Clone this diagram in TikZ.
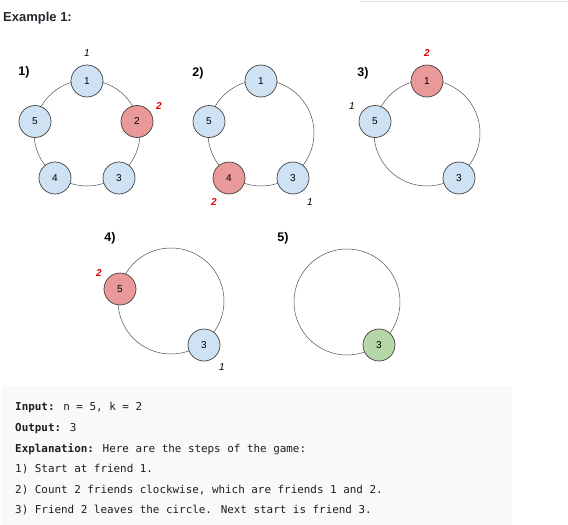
\documentclass[tikz,border=0pt]{standalone}
\usepackage{fontspec}
\setmainfont{Liberation Sans}
\newfontfamily\codefont{DejaVu Sans Mono}
\definecolor{fblue}{HTML}{CFE2F3}
\definecolor{fred}{HTML}{EA9999}
\definecolor{fgreen}{HTML}{B6D7A8}
\definecolor{nodeborder}{HTML}{404040}
\definecolor{ringgray}{HTML}{505050}
\definecolor{titlecol}{HTML}{262A30}
\definecolor{codebg}{HTML}{F7F9FA}
\definecolor{codetext}{HTML}{1E1E1E}
\definecolor{cntred}{HTML}{E00000}
\begin{document}
\begin{tikzpicture}[x=1pt,y=-1pt,
  friend/.style={circle,draw=nodeborder,line width=0.7pt,minimum size=32pt,inner sep=0pt,font=\fontsize{10}{11}\selectfont},
  fb/.style={friend,fill=fblue},
  fr/.style={friend,fill=fred},
  fg/.style={friend,fill=fgreen},
  ring/.style={circle,draw=ringgray,line width=0.5pt,minimum size=106pt,inner sep=0pt},
  cnt/.style={font=\itshape\fontsize{10}{11}\selectfont,inner sep=0pt},
  cntr/.style={font=\bfseries\itshape\fontsize{10}{11}\selectfont,text=cntred,inner sep=0pt},
  plab/.style={font=\bfseries\fontsize{12.5}{14}\selectfont,inner sep=0pt},
  codeline/.style={anchor=base west,inner sep=0pt,text=codetext,font=\codefont\fontsize{10.9}{13}\selectfont}
]
\useasboundingbox (0,0) rectangle (568,525);
\fill[white] (0,0) rectangle (568,525);
\draw[black!12,line width=0.8pt] (360,1) -- (568,1);

\node[anchor=base west,inner sep=0pt,text=titlecol,font=\bfseries\fontsize{13}{15}\selectfont] (title) at (3,21.5) {Example 1:};

% panel 1
\node[ring] (r1) at (87,133) {};
\node[fb] (a1) at (87,81) {1};
\node[fr] (a2) at (137,121.5) {2};
\node[fb] (a3) at (119,178) {3};
\node[fb] (a4) at (55,178) {4};
\node[fb] (a5) at (35,121.5) {5};
\node[plab] (p1) at (24,72) {1)};
\node[cnt] (c1a) at (87,53) {1};
\node[cntr] (c1b) at (159,106) {2};

% panel 2
\node[ring] (r2) at (261,133) {};
\node[fb] (b1) at (261,81) {1};
\node[fb] (b3) at (293,178) {3};
\node[fr] (b4) at (229,178) {4};
\node[fb] (b5) at (209,121.5) {5};
\node[plab] (p2) at (198,73) {2)};
\node[cntr] (c2b) at (214,202) {2};
\node[cnt] (c2a) at (310,202) {1};

% panel 3
\node[ring] (r3) at (427,133) {};
\node[fr] (d1) at (427,81) {1};
\node[fb] (d3) at (459,178) {3};
\node[fb] (d5) at (375,121.5) {5};
\node[plab] (p3) at (363,73) {3)};
\node[cntr] (c3b) at (427,53) {2};
\node[cnt] (c3a) at (352,106) {1};

% panel 4
\node[ring] (r4) at (171,301) {};
\node[fr] (e5) at (120,289) {5};
\node[fb] (e3) at (204,345) {3};
\node[plab] (p4) at (110,238) {4)};
\node[cntr] (c4b) at (99,273) {2};
\node[cnt] (c4a) at (222,367) {1};

% panel 5
\node[ring] (r5) at (347,302) {};
\node[fg] (g3) at (379,345) {3};
\node[plab] (p5) at (283,238) {5)};

% code box
\fill[codebg,rounded corners=4pt] (1,386) rectangle (512,532);
\node[codeline] (l1) at (15,410) {\textbf{Input:} n = 5, k = 2};
\node[codeline] (l2) at (15,431) {\textbf{Output:} 3};
\node[codeline] (l3) at (15,452) {\textbf{Explanation:} Here are the steps of the game:};
\node[codeline] (l4) at (15,472.5) {1) Start at friend 1.};
\node[codeline] (l5) at (15,493) {2) Count 2 friends clockwise, which are friends 1 and 2.};
\node[codeline] (l6) at (15,513.5) {3) Friend 2 leaves the circle. Next start is friend 3.};
\end{tikzpicture}
\end{document}
